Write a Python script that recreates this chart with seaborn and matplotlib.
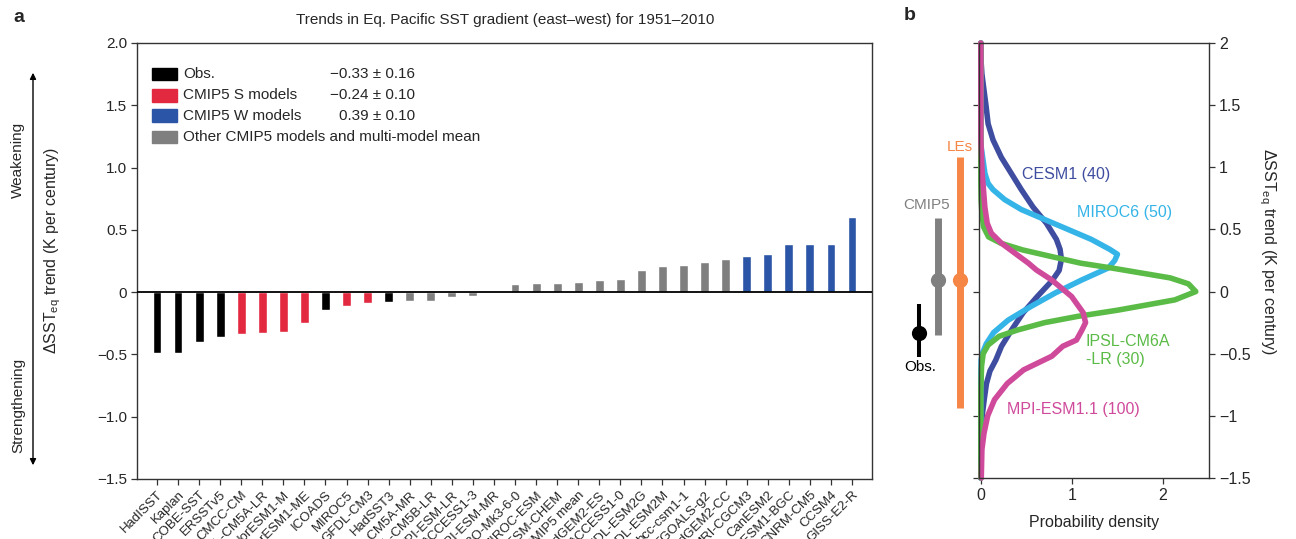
import numpy as np
import pandas as pd
import matplotlib
matplotlib.use("Agg")
import matplotlib.pyplot as plt
import seaborn as sns
from matplotlib.patches import Rectangle, FancyArrowPatch
from matplotlib.transforms import ScaledTranslation

# ---------------- Panel a data ----------------
models = ["HadISST", "Kaplan", "COBE-SST", "ERSSTv5", "CMCC-CM", "IPSL-CM5A-LR",
          "NorESM1-M", "NorESM1-ME", "ICOADS", "MIROC5", "GFDL-CM3", "HadSST3",
          "IPSL-CM5A-MR", "IPSL-CM5B-LR", "MPI-ESM-LR", "ACCESS1-3", "MPI-ESM-MR",
          "CSIRO-Mk3-6-0", "MIROC-ESM", "MIROC-ESM-CHEM", "CMIP5 mean", "HadGEM2-ES",
          "ACCESS1-0", "GFDL-ESM2G", "GFDL-ESM2M", "bcc-csm1-1", "FGOALS-g2",
          "HadGEM2-CC", "MRI-CGCM3", "CanESM2", "CESM1-BGC", "CNRM-CM5", "CCSM4",
          "GISS-E2-R"]
trends = [-0.49, -0.485, -0.40, -0.36, -0.34, -0.33, -0.32, -0.25, -0.14, -0.11,
          -0.09, -0.08, -0.07, -0.07, -0.035, -0.027, -0.004, 0.067, 0.07, 0.07,
          0.078, 0.095, 0.103, 0.175, 0.207, 0.215, 0.239, 0.263, 0.287, 0.303,
          0.383, 0.383, 0.39, 0.607]
groups = ["obs", "obs", "obs", "obs", "S", "S", "S", "S", "obs", "S", "S", "obs",
          "other", "other", "other", "other", "other", "other", "other", "other",
          "other", "other", "other", "other", "other", "other", "other", "other",
          "W", "W", "W", "W", "W", "W"]

group_colors = {"obs": "#000000", "S": "#E2293F", "W": "#2B55A6", "other": "#7F7F7F"}
legend_groups = ["obs", "S", "W", "other"]
legend_labels = ["Obs.", "CMIP5 S models", "CMIP5 W models",
                 "Other CMIP5 models and multi-model mean"]
legend_values = ["\u22120.33 \u00b1 0.16", "\u22120.24 \u00b1 0.10", "0.39 \u00b1 0.10", ""]

ya_ticks = [2.0, 1.5, 1.0, 0.5, 0.0, -0.5, -1.0, -1.5]
ya_ticklabels = ["2.0", "1.5", "1.0", "0.5", "0", "\u22120.5", "\u22121.0", "\u22121.5"]

# ---------------- Panel b data ----------------
cesm_trend = [2.0, 1.85, 1.75, 1.62, 1.49, 1.35, 1.22, 1.08, 0.95, 0.82, 0.68, 0.55,
              0.42, 0.34, 0.26, 0.17, 0.09, -0.04, -0.17, -0.31, -0.44, -0.55, -0.64,
              -0.74, -0.87, -1.0, -1.14, -1.3, -1.5]
cesm_density = [0.0, 0.003, 0.012, 0.035, 0.058, 0.08, 0.134, 0.225, 0.335, 0.445,
                0.573, 0.72, 0.83, 0.87, 0.885, 0.86, 0.785, 0.62, 0.465, 0.337, 0.227,
                0.165, 0.10, 0.062, 0.037, 0.015, 0.005, 0.0, 0.0]

miroc_trend = [2.0, 1.3, 1.17, 1.08, 0.95, 0.87, 0.82, 0.74, 0.66, 0.58, 0.50, 0.42,
               0.34, 0.30, 0.25, 0.19, 0.094, -0.01, -0.12, -0.23, -0.33, -0.42, -0.50,
               -0.55, -0.7, -1.5]
miroc_density = [0.0, 0.0, 0.003, 0.02, 0.045, 0.08, 0.134, 0.262, 0.445, 0.70, 0.957,
                 1.213, 1.415, 1.50, 1.47, 1.40, 1.11, 0.82, 0.55, 0.30, 0.14, 0.06,
                 0.015, 0.003, 0.0, 0.0]

ipsl_trend = [2.0, 0.9, 0.74, 0.63, 0.52, 0.44, 0.389, 0.335, 0.281, 0.228, 0.188,
              0.11, 0.062, 0.0, -0.067, -0.15, -0.20, -0.25, -0.31, -0.36, -0.43, -0.50,
              -0.6, -0.8, -1.5]
ipsl_density = [0.0, 0.0, 0.003, 0.012, 0.03, 0.085, 0.22, 0.46, 0.78, 1.10, 1.45,
                2.08, 2.28, 2.36, 2.13, 1.50, 1.06, 0.70, 0.40, 0.20, 0.08, 0.026, 0.008,
                0.0, 0.0]

mpi_trend = [2.0, 1.22, 0.95, 0.68, 0.55, 0.47, 0.39, 0.31, 0.23, 0.174, 0.094, -0.04,
             -0.17, -0.25, -0.31, -0.39, -0.44, -0.52, -0.63, -0.74, -0.87, -1.0, -1.14,
             -1.27, -1.5]
mpi_density = [0.0, 0.0, 0.015, 0.044, 0.07, 0.115, 0.225, 0.372, 0.52, 0.61, 0.777,
               0.997, 1.124, 1.15, 1.11, 1.05, 0.90, 0.78, 0.47, 0.29, 0.15, 0.075,
               0.035, 0.012, 0.005]

pdf_names = ["CESM1 (40)", "MIROC6 (50)", "IPSL-CM6A\n-LR (30)", "MPI-ESM1.1 (100)"]
pdf_colors = ["#3F4DA0", "#35B4E8", "#5BBB47", "#D04A9B"]

summary_names = ["Obs.", "CMIP5", "LEs"]
summary_center = [-0.33, 0.09, 0.09]
summary_low = [-0.53, -0.35, -0.94]
summary_high = [-0.10, 0.59, 1.08]
summary_colors = ["#000000", "#808080", "#F58646"]

yb_ticks = [2.0, 1.5, 1.0, 0.5, 0.0, -0.5, -1.0, -1.5]
yb_ticklabels = ["2", "1.5", "1", "0.5", "0", "\u22120.5", "\u22121", "\u22121.5"]
xb_ticks = [0, 1, 2]
xb_ticklabels = ["0", "1", "2"]

# ---------------- Style ----------------
sns.set_style("ticks")
plt.rcParams["font.family"] = ["Liberation Sans", "DejaVu Sans"]
plt.rcParams["mathtext.fontset"] = "custom"
plt.rcParams["mathtext.rm"] = "Liberation Sans"
plt.rcParams["mathtext.it"] = "Liberation Sans:italic"
plt.rcParams["mathtext.bf"] = "Liberation Sans:bold"

W, H = 1296, 539
fig = plt.figure(figsize=(W / 100, H / 100), dpi=100)

def fx(px):
    return px / W

def fy(py):
    return 1 - py / H

spine_col = "#333333"

# ---------------- Panel a ----------------
axa = fig.add_axes([fx(137), fy(479), fx(872) - fx(137), fy(43) - fy(479)])
df = pd.DataFrame({"model": models, "trend": trends, "group": groups})
sns.barplot(data=df, x="model", y="trend", hue="group", palette=group_colors,
            dodge=False, width=0.42, saturation=1, errorbar=None, legend=False,
            ax=axa, zorder=2)
axa.axhline(0, color="black", lw=1.3, zorder=3)
axa.set_xlim(-0.95, len(models) - 1 + 0.95)
axa.set_ylim(-1.5, 2.0)
axa.set_yticks(ya_ticks)
axa.set_yticklabels(ya_ticklabels, fontsize=11)
axa.set_xticks(range(len(models)))
axa.set_xticklabels(models, rotation=45, ha="right", va="top",
                    rotation_mode="anchor", fontsize=9.5)
shift = ScaledTranslation(3 / 100, 0, fig.dpi_scale_trans)
for lab in axa.get_xticklabels():
    lab.set_transform(lab.get_transform() + shift)
axa.set_xlabel("")
axa.set_ylabel("\u0394SST$_{\\mathrm{eq}}$ trend (K per century)", fontsize=11.5)
axa.yaxis.set_label_coords(-0.101, 0.525)
axa.tick_params(direction="out", length=4, width=0.9, color=spine_col, pad=3)
for s in axa.spines.values():
    s.set_visible(True)
    s.set_color(spine_col)
    s.set_linewidth(1.0)

# legend (manual layout)
row_y = [0.9289, 0.8807, 0.8326, 0.7844]
for g, lab, val, yy in zip(legend_groups, legend_labels, legend_values, row_y):
    axa.add_patch(Rectangle((0.0204, yy - 0.0149), 0.034, 0.0298,
                            transform=axa.transAxes, color=group_colors[g],
                            clip_on=False, zorder=4))
    axa.text(0.0625, yy, lab, transform=axa.transAxes, fontsize=11,
             va="center", ha="left")
    if val:
        axa.text(0.378, yy, val, transform=axa.transAxes, fontsize=11,
                 va="center", ha="right")

fig.text(fx(505), fy(20), "Trends in Eq. Pacific SST gradient (east\u2013west) for 1951\u20132010",
         ha="center", va="center", fontsize=11)
fig.text(fx(19), fy(17), "a", ha="center", va="center", fontsize=14, fontweight="bold")
fig.text(fx(910), fy(16), "b", ha="center", va="center", fontsize=14, fontweight="bold")

# side arrow and labels
arrow = FancyArrowPatch((fx(33), fy(468)), (fx(33), fy(70)), transform=fig.transFigure,
                        arrowstyle="<|-|>", mutation_scale=9, lw=1.0, color="black")
fig.add_artist(arrow)
fig.text(fx(18), fy(160), "Weakening", rotation=90, ha="center", va="center", fontsize=11)
fig.text(fx(18), fy(405), "Strengthening", rotation=90, ha="center", va="center", fontsize=11)

# ---------------- Panel b ----------------
axb = fig.add_axes([fx(979), fy(478), fx(1208.5) - fx(979), fy(43) - fy(478)])
curves = [(cesm_density, cesm_trend), (miroc_density, miroc_trend),
          (ipsl_density, ipsl_trend), (mpi_density, mpi_trend)]
for (dens, tr), col in zip(curves, pdf_colors):
    sns.lineplot(x=dens, y=tr, sort=False, estimator=None, color=col, lw=4.0, ax=axb)
    ln = axb.lines[-1]
    ln.set_clip_on(False)
    ln.set_solid_capstyle("round")
    ln.set_solid_joinstyle("round")

axb.set_xlim(-0.02, 2.5)
axb.set_ylim(-1.5, 2.0)
axb.set_xticks(xb_ticks)
axb.set_xticklabels(xb_ticklabels, fontsize=11.5)
axb.set_yticks(yb_ticks)
axb.set_yticklabels(yb_ticklabels, fontsize=11.5)
axb.tick_params(axis="y", left=True, right=True, labelleft=False, labelright=True,
                direction="out", length=4, width=0.9, color=spine_col)
axb.tick_params(axis="x", direction="out", length=4, width=0.9, color=spine_col)
axb.yaxis.set_label_position("right")
axb.set_ylabel("\u0394SST$_{\\mathrm{eq}}$ trend (K per century)", fontsize=11.5,
               rotation=270)
axb.yaxis.set_label_coords(1.303, 0.52)
axb.set_xlabel("Probability density", fontsize=11.5, labelpad=8)
for s in axb.spines.values():
    s.set_visible(True)
    s.set_color(spine_col)
    s.set_linewidth(1.0)

# curve labels
label_pos = [(0.45, 0.94), (1.055, 0.64), (1.154, -0.476), (0.286, -0.95)]
for name, col, (xx, yy) in zip(pdf_names, pdf_colors, label_pos):
    axb.text(xx, yy, name, color=col, fontsize=11.5, ha="left", va="center",
             linespacing=1.25)

# summary ranges left of panel b
sx = [-0.679, -0.47, -0.228]
slw = [2.9, 5.0, 5.0]
for x, c0, lo, hi, col, lw in zip(sx, summary_center, summary_low, summary_high,
                                   summary_colors, slw):
    axb.vlines(x, lo, hi, colors=col, lw=lw, clip_on=False, zorder=5)
    axb.scatter([x], [c0], s=120, color=col, clip_on=False, zorder=6, linewidths=0)
label_xy = [(-0.668, -0.605), (-0.60, 0.696), (-0.228, 1.162)]
for name, col, (xx, yy) in zip(summary_names, summary_colors, label_xy):
    axb.text(xx, yy, name, color=col, fontsize=11, ha="center", va="center")

fig.savefig("out.png", dpi=100)
